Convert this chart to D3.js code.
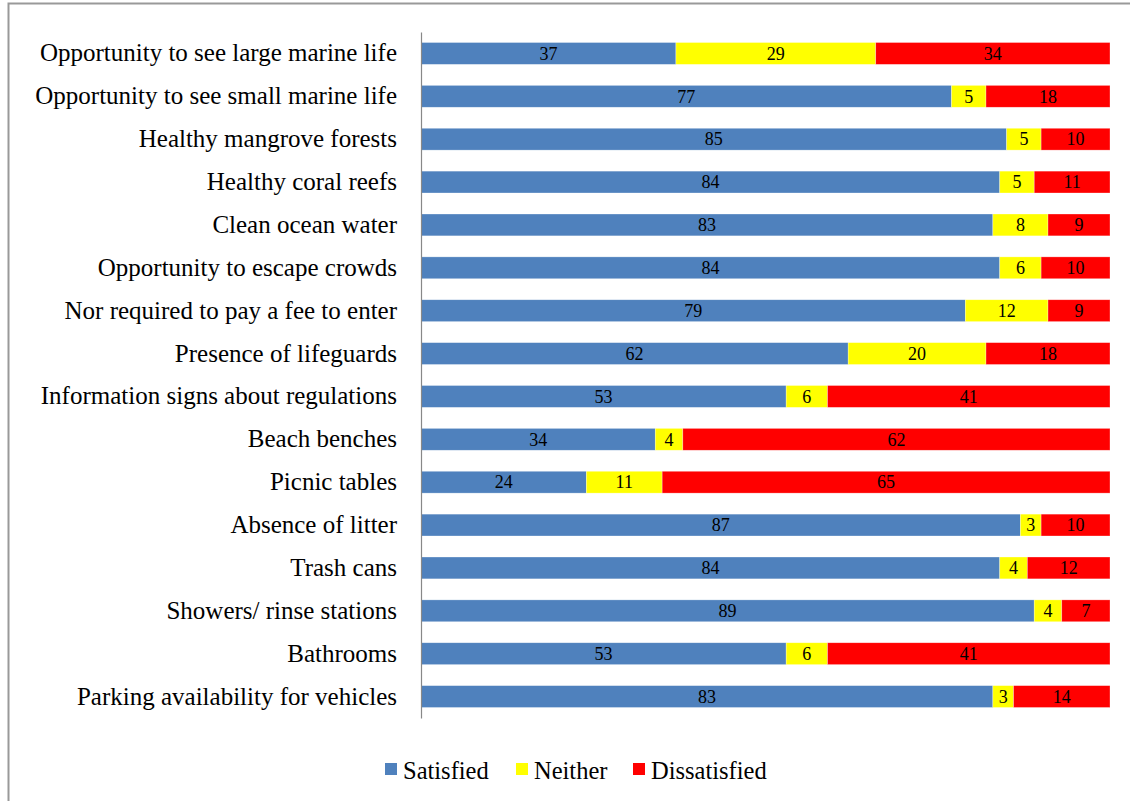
<!DOCTYPE html>
<html><head><meta charset="utf-8">
<script src="https://cdn.jsdelivr.net/npm/d3@7"></script>
<style>body{margin:0;background:#fff}svg{display:block}</style>
</head><body>
<svg id="chart" width="1130" height="801"></svg>
<script>
const categories = [
  "Opportunity to see large marine life",
  "Opportunity to see small marine life",
  "Healthy mangrove forests",
  "Healthy coral reefs",
  "Clean ocean water",
  "Opportunity to escape crowds",
  "Nor required to pay a fee to enter",
  "Presence of lifeguards",
  "Information signs about regulations",
  "Beach benches",
  "Picnic tables",
  "Absence of litter",
  "Trash cans",
  "Showers/ rinse stations",
  "Bathrooms",
  "Parking availability for vehicles"
];
const satisfied    = [37,77,85,84,83,84,79,62,53,34,24,87,84,89,53,83];
const neither      = [29, 5, 5, 5, 8, 6,12,20, 6, 4,11, 3, 4, 4, 6, 3];
const dissatisfied = [34,18,10,11, 9,10, 9,18,41,62,65,10,12, 7,41,14];
const seriesNames = ["Satisfied","Neither","Dissatisfied"];
const seriesColors = ["#4F81BD","#FFFF00","#FF0000"];

const svg = d3.select("#chart");
const font = "'Liberation Serif','Times New Roman',serif";

// frame
svg.append("rect").attr("x",8.5).attr("y",3.5).attr("width",1130).attr("height",820)
  .attr("fill","none").attr("stroke","#999").attr("stroke-width",2);

const x = d3.scaleLinear().domain([0,100]).range([421,1110]);
const y = d3.scaleBand().domain(categories).range([32,718]).paddingInner(0.49).paddingOuter(0.245);

const rows = categories.map((c,i)=>({cat:c, Satisfied:satisfied[i], Neither:neither[i], Dissatisfied:dissatisfied[i]}));
const stack = d3.stack().keys(seriesNames)(rows);

const g = svg.append("g");
stack.forEach((layer,si)=>{
  const lg = g.append("g");
  lg.selectAll("rect").data(layer).join("rect")
    .attr("x",d=>x(d[0])).attr("y",d=>y(d.data.cat))
    .attr("width",d=>x(d[1])-x(d[0])).attr("height",y.bandwidth())
    .attr("fill",seriesColors[si]).attr("stroke","rgba(255,255,255,0.5)").attr("stroke-width",0.6);
  lg.selectAll("text").data(layer).join("text")
    .attr("x",d=>(x(d[0])+x(d[1]))/2).attr("y",d=>y(d.data.cat)+y.bandwidth()/2)
    .attr("dy","0.35em").attr("text-anchor","middle")
    .attr("font-family",font).attr("font-size",18).attr("fill","#000")
    .text(d=>d[1]-d[0]);
});

// axis
const axis = d3.axisLeft(y).tickSize(0).tickPadding(24);
const ag = svg.append("g").attr("transform","translate(421,0)").call(axis);
ag.attr("font-family",font).attr("font-size",25);
ag.select(".domain").attr("stroke","#888").attr("stroke-width",1.2);
ag.selectAll("text").attr("font-family",font).attr("font-size",25).attr("fill","#000");

// legend
const legendX = [385, 516, 633];
const lg = svg.append("g");
seriesNames.forEach((n,i)=>{
  lg.append("rect").attr("x",legendX[i]).attr("y",763).attr("width",12).attr("height",12).attr("fill",seriesColors[i]);
  lg.append("text").attr("x",legendX[i]+18).attr("y",770).attr("dy","0.35em")
    .attr("font-family",font).attr("font-size",24.5).attr("fill","#000").text(n);
});
</script>
</body></html>
